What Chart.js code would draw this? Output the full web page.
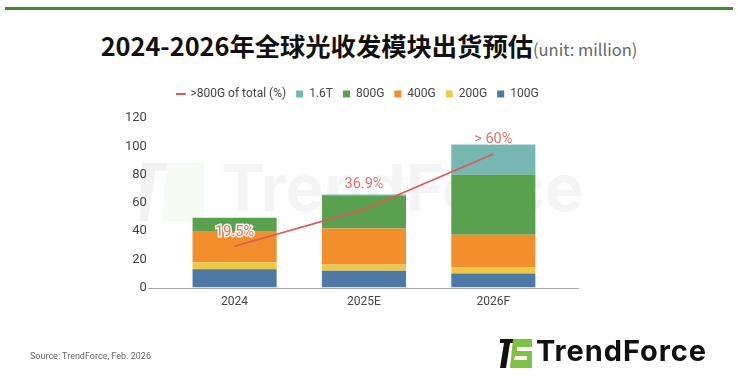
<!DOCTYPE html>
<html lang="zh">
<head>
  <meta charset="UTF-8">
  <title>2024-2026年全球光收发模块出货预估</title>
  <script src="https://cdn.jsdelivr.net/npm/chart.js"></script>
  <style>
    body { margin: 0; background: #fff; }
    #wrap { position: relative; width: 738px; height: 388px; overflow: hidden; }
    #topbar { position: absolute; left: 5px; top: 7px; width: 728px; height: 3px; background: #3f8a2c; }
    #title { position: absolute; left: 0; top: 29px; width: 738px; text-align: center;
             font-family: "Noto Sans CJK SC", sans-serif; font-weight: 700; font-size: 25.3px; color: #111; line-height: 32px; }
    #title span { font-size: 16.5px; font-weight: 400; color: #666; }
    #wm { position: absolute; left: 140px; top: 160px; opacity: 0.05; }
    #wmtext { position: absolute; left: 221px; top: 148px; font-family: Inter, sans-serif; font-weight: 700;
              font-size: 65px; color: rgba(0,0,0,0.045); }
    #src { position: absolute; left: 30px; top: 351px; font-family: Roboto, sans-serif; font-size: 9px; color: #666; }
    #logo { position: absolute; left: 499px; top: 337px; }
    #logotext { position: absolute; left: 536px; top: 333px; font-family: Inter, sans-serif; font-weight: 700;
                font-size: 29px; color: #111; letter-spacing: 0.9px; }
    canvas { position: absolute; left: 0; top: 0; }
  </style>
</head>
<body>
<div id="wrap">
  <div id="topbar"></div>
  <div id="title">2024-2026年全球光收发模块出货预估<span>(unit: million)</span></div>
  <svg id="wm" width="66" height="64" viewBox="0 0 34 32">
    <path d="M1 1 H22 V5 H8 L4 31 H0 Z" fill="#000"/>
    <path d="M14 1 H33 V31 H11 Z" fill="#8dc63f"/>
  </svg>
  <div id="wmtext">TrendForce</div>
  <canvas id="myChart" width="738" height="388"></canvas>
  <div id="src">Source: TrendForce, Feb. 2026</div>
  <svg id="logo" width="34" height="32" viewBox="0 0 34 32">
    <path d="M1 2 H20 V6 H11 L7 31 H1 L5 6 H1 Z" fill="#111"/>
    <path d="M14 2 H33 V31 H11 Z" fill="#7dc242"/>
    <path d="M18 10 H33 V14 H18 Z M16 19 H28 V23 H15 Z" fill="#fff"/>
  </svg>
  <div id="logotext">TrendForce</div>
</div>
<script>
  // data (million units)
  const years = ['2024', '2025E', '2026F'];
  const g100 = [13, 12, 10];
  const g200 = [5, 4.3, 4.4];
  const g400 = [22, 25.5, 23];
  const g800 = [9.5, 23, 42.5];
  const t16 = [0, 1, 21.3];
  const share800 = [19.5, 36.9, 63];          // >800G share of total, %
  const shareLabels = ['19.5%', '36.9%', '> 60%'];
  const yMax = 120;
  const yStep = 20;

  const labelLift = [14, 25, 15]; // how far each % label sits above its point

  // percent labels over the line points
  const pctLabels = {
    id: 'pctLabels',
    afterDatasetsDraw(chart) {
      const meta = chart.getDatasetMeta(5);
      const ctx = chart.ctx;
      ctx.save();
      ctx.font = '14.5px Roboto, sans-serif';
      ctx.textAlign = 'center';
      ctx.textBaseline = 'middle';
      meta.data.forEach((pt, i) => {
        const y = pt.y - labelLift[i];
        ctx.lineWidth = 3;
        ctx.strokeStyle = 'rgba(255,255,255,0.9)';
        ctx.strokeText(shareLabels[i], pt.x, y);
        ctx.fillStyle = '#e5706b';
        ctx.fillText(shareLabels[i], pt.x, y);
      });
      ctx.restore();
    }
  };

  // zero baseline, a bit wider than the plot area
  const baseLine = {
    id: 'baseLine',
    beforeDatasetsDraw(chart) {
      const { ctx, chartArea } = chart;
      const y0 = Math.round(chart.scales.y.getPixelForValue(0)) + 0.5;
      ctx.save();
      ctx.strokeStyle = '#a8a8a8';
      ctx.lineWidth = 1;
      ctx.beginPath();
      ctx.moveTo(chartArea.left - 22, y0);
      ctx.lineTo(chartArea.right + 21, y0);
      ctx.stroke();
      ctx.restore();
    }
  };

  // a little more room under the legend, and centre it a bit further right
  const legendTweak = {
    id: 'legendTweak',
    beforeInit(chart) {
      const origFit = chart.legend.fit;
      chart.legend.fit = function () {
        origFit.bind(chart.legend)();
        this.height += 8;
      };
    },
    afterLayout(chart) {
      chart.legend.left += 28;
      chart.legend.right += 28;
    }
  };

  const barSet = (label, data, color) => ({
    label: label, data: data, backgroundColor: color, borderWidth: 0,
    stack: 's', order: 1, categoryPercentage: 0.65, barPercentage: 1
  });

  const ctx = document.getElementById('myChart').getContext('2d');
  const myChart = new Chart(ctx, {
    type: 'bar',
    data: {
      labels: years,
      datasets: [
        barSet('100G', g100, '#4e79a7'),
        barSet('200G', g200, '#edc948'),
        barSet('400G', g400, '#f28e2b'),
        barSet('800G', g800, '#59a14f'),
        barSet('1.6T', t16, '#76b7b2'),
        {
          type: 'line', label: '>800G of total (%)', data: share800, yAxisID: 'y1',
          borderColor: '#e15759', backgroundColor: '#e15759', borderWidth: 1.6,
          pointRadius: 0, tension: 0, order: 0
        }
      ]
    },
    options: {
      responsive: false,
      animation: false,
      layout: { padding: { left: 102, right: 180, top: 78, bottom: 72 } },
      plugins: {
        tooltip: { enabled: false },
        legend: {
          position: 'top',
          labels: {
            font: { family: 'Roboto', size: 12 },
            color: '#444',
            boxWidth: 7,
            boxHeight: 7,
            padding: 10,
            usePointStyle: true,
            generateLabels(chart) {
              const items = Chart.defaults.plugins.legend.labels.generateLabels(chart);
              items.forEach(it => {
                if (it.datasetIndex === 5) {
                  it.pointStyle = 'line';
                  it.lineWidth = 2;
                } else {
                  it.pointStyle = 'rect';
                  it.lineWidth = 0;
                }
              });
              return items;
            },
            sort: (a, b) => {
              const rank = it => it.datasetIndex === 5 ? -1 : 10 - it.datasetIndex;
              return rank(a) - rank(b);
            }
          }
        }
      },
      scales: {
        x: {
          stacked: true,
          grid: { display: false, drawTicks: false },
          border: { display: false },
          ticks: { color: '#444', font: { family: 'Roboto', size: 12 }, padding: 7 }
        },
        y: {
          stacked: true,
          min: 0,
          max: yMax,
          grid: { display: false, drawTicks: false },
          border: { display: false },
          ticks: { stepSize: yStep, color: '#444', font: { family: 'Roboto', size: 13 }, padding: 23 }
        },
        y1: {
          display: false,
          min: 0,
          max: 80
        }
      }
    },
    plugins: [baseLine, pctLabels, legendTweak]
  });
</script>
</body>
</html>
